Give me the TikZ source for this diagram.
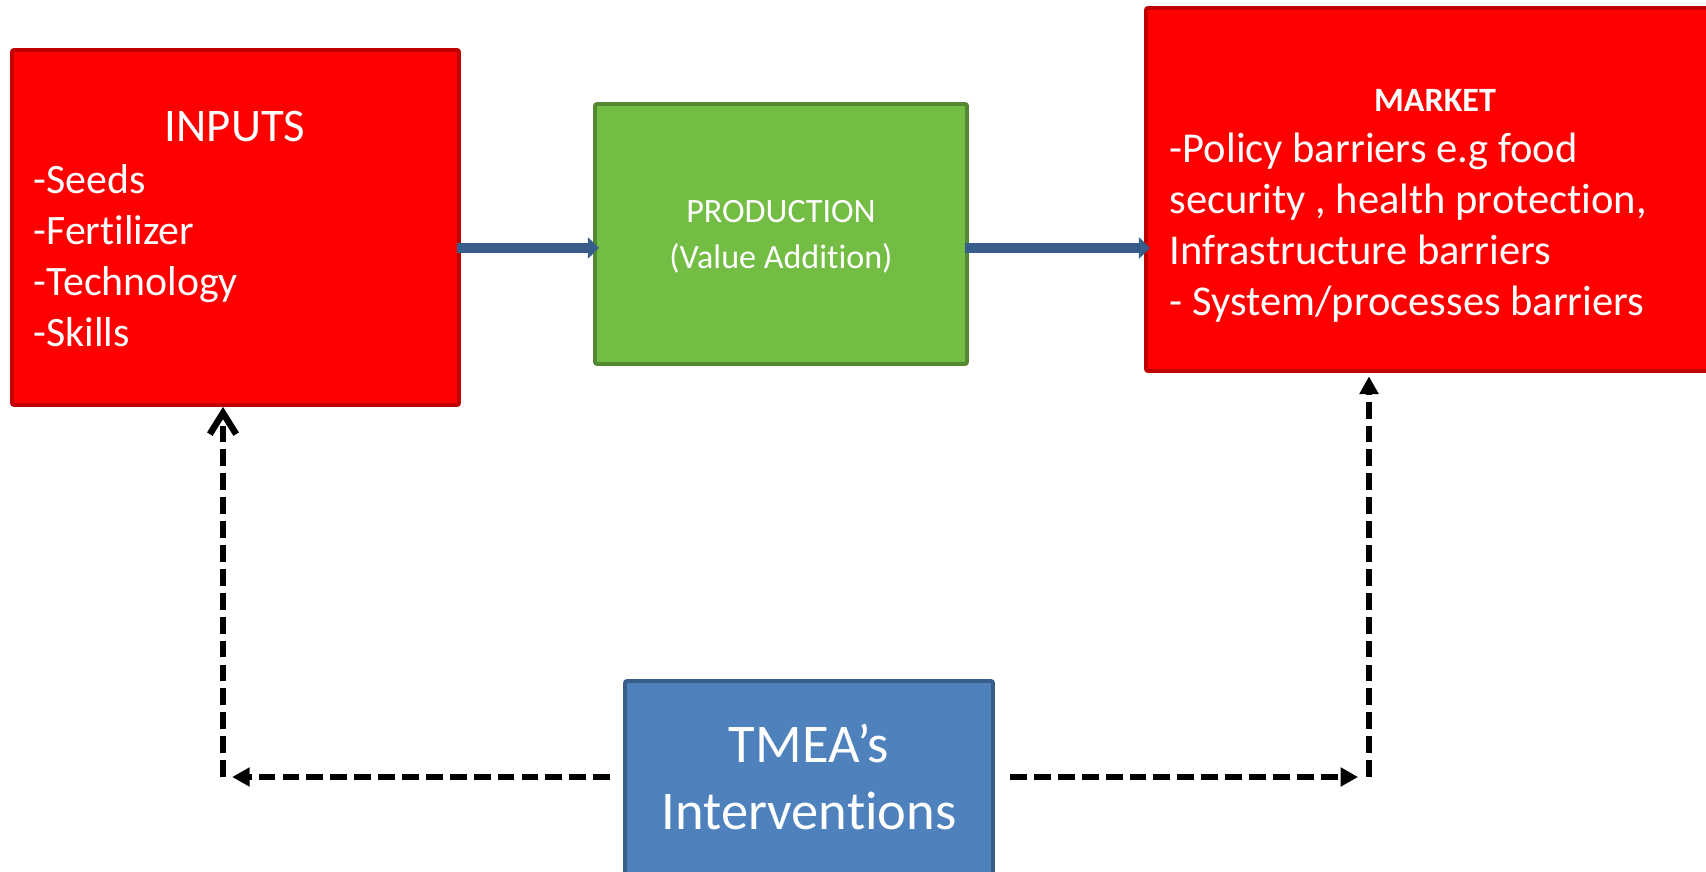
\documentclass[tikz,border=0pt]{standalone}
\usepackage{fontspec}
\setmainfont{Carlito}[Ligatures=NoCommon]
\usepackage{xcolor}
\definecolor{tmeared}{RGB}{255, 0, 0}
\definecolor{tmeadarkred}{RGB}{192, 0, 0}
\definecolor{tmeagreen}{RGB}{116, 189, 68}
\definecolor{tmeadarkgreen}{RGB}{84, 136, 50}
\definecolor{tmeablue}{RGB}{79, 129, 189}
\definecolor{tmeadarkblue}{RGB}{56, 93, 138}
\definecolor{tmeaarrow}{RGB}{56, 93, 138}
\usepackage{tikz}
\usetikzlibrary{
    arrows.meta,
    positioning,
    calc
}

\begin{document}
\begin{tikzpicture}[
    redbox/.style={draw=tmeadarkred,fill=tmeared,line width=1.1pt,rounded corners=0.6pt,inner sep=0pt},
    greenbox/.style={draw=tmeadarkgreen,fill=tmeagreen,line width=1.1pt,rounded corners=0.6pt,inner sep=0pt},
    bluebox/.style={draw=tmeadarkblue,fill=tmeablue,line width=1.1pt,rounded corners=0.6pt,inner sep=0pt},
    boxtext/.style={white,inner sep=0pt},
    flow/.style={tmeaarrow,line width=2.85pt,-{Triangle[length=3.2pt,width=6pt]},shorten <=-1.1pt,shorten >=-1.7pt},
    link/.style={black,line width=1.85pt,dash pattern=on 4.8pt off 2pt}
]
    \useasboundingbox (0,0) rectangle (17.06,8.72);
    \clip (0,0) rectangle (17.06,8.72);

    % Boxes
    \node[redbox,minimum width=4.47cm,minimum height=3.55cm] (inputs) at (2.355,6.445) {};
    \node[greenbox,minimum width=3.72cm,minimum height=2.60cm] (prod) at (7.81,6.38) {};
    \node[redbox,minimum width=5.84cm,minimum height=3.63cm] (market) at (14.38,6.825) {};
    \node[bluebox,minimum width=3.68cm,minimum height=2.19cm] (tmea) at (8.09,0.815) {};

    % Inputs text
    \node[boxtext,anchor=base,font=\fontsize{13.3}{16}\selectfont] (inputstitle) at (2.35,7.30) {INPUTS};
    \foreach \item [count=\i] in {-Seeds,-Fertilizer,-Technology,-Skills}
        \node[boxtext,anchor=base west,font=\fontsize{11.9}{14}\selectfont] (input\i) at (0.33,7.29-0.51*\i) {\item};

    % Production text
    \node[boxtext,anchor=base,font=\fontsize{9.7}{12}\selectfont] (prodtitle) at (7.81,6.49) {PRODUCTION};
    \node[boxtext,anchor=base,font=\fontsize{9.7}{12}\selectfont] (prodsub) at (7.81,6.03) {(Value Addition)};

    % Market text
    \node[boxtext,anchor=base,font=\fontsize{9.7}{12}\selectfont\bfseries] (markettitle) at (14.35,7.60) {MARKET};
    \foreach \item [count=\i] in {-Policy barriers e.g food,{security , health protection,},Infrastructure barriers,- System/processes barriers}
        \node[boxtext,anchor=base west,font=\fontsize{12.1}{14}\selectfont] (market\i) at (11.69,7.60-0.51*\i) {\item};

    % Interventions text
    \node[boxtext,anchor=base,font=\fontsize{15.5}{19}\selectfont] (tmeatitle) at (8.09,1.09) {TMEA’s};
    \node[boxtext,anchor=base,font=\fontsize{15.5}{19}\selectfont] (tmeasub) at (8.09,0.42) {Interventions};

    % Flow arrows
    \coordinate (flowy) at (0,6.24);
    \draw[flow] (inputs.east |- flowy) -- (prod.west |- flowy);
    \draw[flow] (prod.east |- flowy) -- (market.west |- flowy);

    % Dashed links
    \coordinate (lcorner) at (2.23,0.95);
    \coordinate (rcorner) at (13.69,0.95);
    \draw[link,-{Triangle[length=5pt,width=5.2pt]},shorten <=3.7pt,shorten >=2.6pt] (tmea.west |- lcorner) -- (lcorner);
    \draw[link,-{Straight Barb[length=6pt,width=7.5pt]}] (lcorner) -- (inputs.south -| lcorner);
    \draw[link,-{Triangle[length=5pt,width=5.2pt]},shorten <=4.3pt,shorten >=3.1pt] (tmea.east |- rcorner) -- (rcorner);
    \draw[link,-{Triangle[length=5pt,width=5.2pt]},shorten >=1pt] (rcorner) -- (market.south -| rcorner);
\end{tikzpicture}
\end{document}
